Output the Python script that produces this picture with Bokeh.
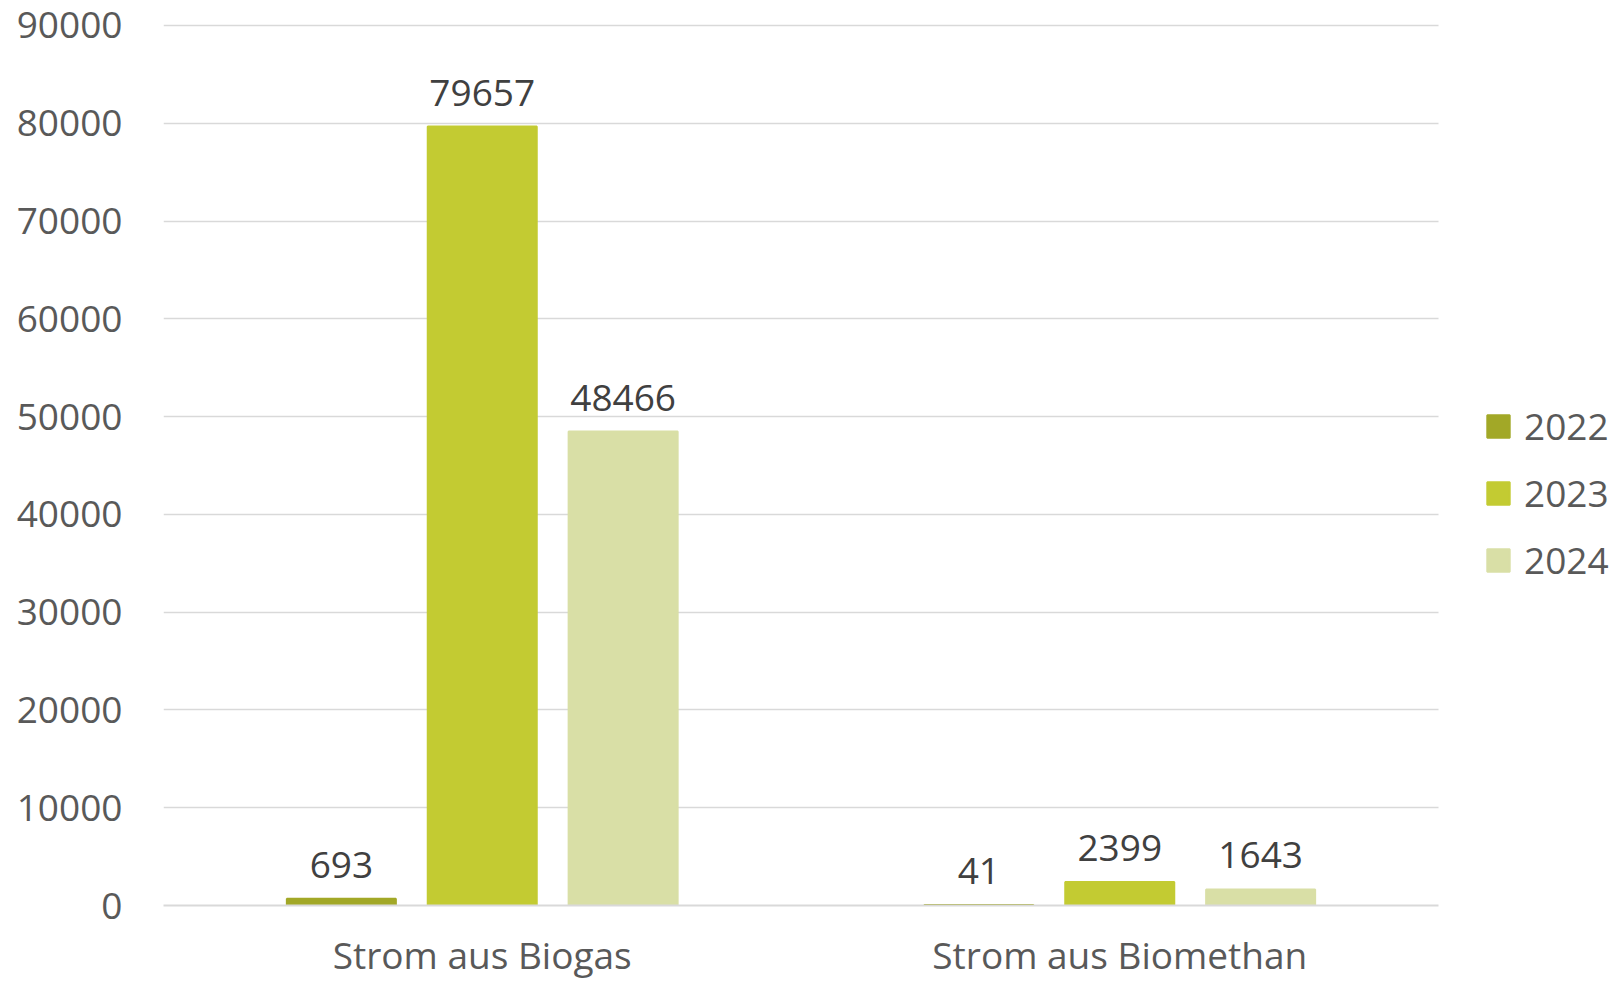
from bokeh.plotting import figure
from bokeh.models import ColumnDataSource, Range1d, Legend, LegendItem, SingleIntervalTicker, FixedTicker, NumeralTickFormatter
from bokeh.core.properties import value
from bokeh.embed import file_html
from bokeh.resources import INLINE

categories = ["Strom aus Biogas", "Strom aus Biomethan"]
years = ["2022", "2023", "2024"]
values_2022 = [693, 41]
values_2023 = [79657, 2399]
values_2024 = [48466, 1643]
colors = ["#a2a827", "#c3cb32", "#d9dfa6"]

FONT = "Open Sans"
FS = "37px"

offsets = [-0.221, 0.0, 0.221]
centers = [i + 0.5 for i in range(len(categories))]

series = {"2022": values_2022, "2023": values_2023, "2024": values_2024}

W, H = 1617, 983
LEFT, TOP, BOTTOM = 163, 22, 78
frame_w = W - LEFT
unit_px = 637.5
p = figure(x_range=Range1d(0, frame_w / unit_px), y_range=Range1d(0, 90300),
           width=W, height=H, output_backend="svg", toolbar_location=None,
           min_border_left=LEFT, min_border_right=0, min_border_top=TOP, min_border_bottom=BOTTOM)
p.outline_line_color = None

items = []
for yr, off, col in zip(years, offsets, colors):
    vals = series[yr]
    src = ColumnDataSource(dict(x=[c + off for c in centers], top=vals, lab=[str(v) for v in vals]))
    r = p.vbar(x="x", top="top", width=0.171, source=src,
               fill_color=col, line_color=col, line_width=2)
    p.text(x="x", y="top", text="lab", source=src,
           text_align="center", text_baseline="alphabetic", y_offset=-34,
           text_font=value(FONT), text_font_size=FS, text_color="#404040")
    items.append(LegendItem(label=yr, renderers=[r]))

legend = Legend(items=items, location=(1321, 320), orientation="vertical",
                glyph_width=28, glyph_height=28, label_standoff=12, spacing=16,
                padding=0, margin=0, border_line_color=None, background_fill_alpha=0,
                label_text_font=FONT, label_text_font_size=FS, label_text_color="#595959")
p.add_layout(legend, "center")

p.yaxis.ticker = SingleIntervalTicker(interval=10000)
p.yaxis.formatter = NumeralTickFormatter(format="0")
p.yaxis.axis_line_color = None
p.yaxis.major_tick_line_color = None
p.yaxis.minor_tick_line_color = None
p.yaxis.major_tick_out = 0
p.yaxis.major_label_standoff = 37
p.yaxis.major_label_text_font = FONT
p.yaxis.major_label_text_font_size = FS
p.yaxis.major_label_text_color = "#595959"

p.xaxis.ticker = FixedTicker(ticks=centers)
p.xaxis.major_label_overrides = {c: name for c, name in zip(centers, categories)}
p.xaxis.bounds = (0, len(categories))
p.xaxis.axis_line_color = "#d9d9d9"
p.xaxis.axis_line_width = 2
p.xaxis.major_tick_line_color = None
p.xaxis.minor_tick_line_color = None
p.xaxis.major_tick_out = 0
p.xaxis.major_label_standoff = 23
p.xaxis.major_label_text_font = FONT
p.xaxis.major_label_text_font_size = FS
p.xaxis.major_label_text_color = "#595959"

p.xgrid.grid_line_color = None
p.ygrid.grid_line_color = "#d9d9d9"
p.ygrid.grid_line_width = 1.5
p.ygrid.cross_bounds = (0, len(categories))

open("out.html", "w").write(file_html(p, INLINE))
